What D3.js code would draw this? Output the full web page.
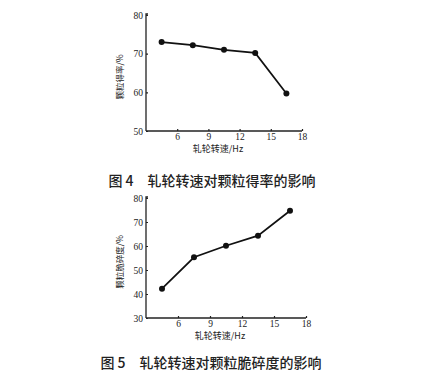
<!DOCTYPE html>
<html>
<head>
<meta charset="utf-8">
<script src="https://cdn.jsdelivr.net/npm/d3@7"></script>
<style>
  body { margin: 0; background: #fff; }
  svg { display: block; }
</style>
</head>
<body>
<div id="container"></div>
<script>
// Chart data
const speed = [4.5, 7.5, 10.5, 13.5, 16.5];
const yieldRate = [73.0, 72.2, 71.0, 70.2, 59.7];
const friability = [42.2, 55.3, 60.1, 64.3, 74.7];
const xTicks = [6, 9, 12, 15, 18];
const yTicksTop = [50, 60, 70, 80];
const yTicksBottom = [30, 40, 50, 60, 70, 80];

const width = 428;
const height = 375;

const svg = d3.select("#container").append("svg")
	.attr("width", width)
	.attr("height", height);

const serif = "'Liberation Serif', 'DejaVu Serif', serif";
const cjk = "'Noto Sans CJK SC', sans-serif";

var drawChart = function(opt) {
	const x = d3.scaleLinear()
		.domain([3, 18])
		.range([opt.left, opt.right]);

	const y = d3.scaleLinear()
		.domain(opt.yDomain)
		.range([opt.bottom, opt.top]);

	const g = svg.append("g");

	// x-axis, ticks pointing inward
	const gx = g.append("g")
		.attr("transform", `translate(0,${opt.bottom})`)
		.call(d3.axisBottom(x).tickValues(xTicks).tickSizeInner(-2).tickSizeOuter(0).tickPadding(2));

	// y-axis, ticks pointing inward
	const gy = g.append("g")
		.attr("transform", `translate(${opt.left},0)`)
		.call(d3.axisLeft(y).tickValues(opt.yTicks).tickSizeInner(-2).tickSizeOuter(0).tickPadding(3));

	[gx, gy].forEach(a => {
		a.select(".domain").attr("stroke", "#222").attr("stroke-width", 1.3);
		a.selectAll(".tick line").attr("stroke", "#222").attr("stroke-width", 1.2);
		a.selectAll(".tick text")
			.attr("fill", "#222")
			.style("font-family", serif)
			.style("font-size", "9.5px");
	});
	// short overhang at the top of the y-axis
	gy.select(".domain").attr("d", `M0,${opt.bottom}V${opt.top - 1}h2`);
	gx.select(".domain").attr("d", `M${opt.left},0H${opt.right}`);

	// line
	const pts = speed.map((d, i) => [d, opt.values[i]]);
	g.append("path")
		.datum(pts)
		.attr("fill", "none")
		.attr("stroke", "#111")
		.attr("stroke-width", 1.7)
		.attr("d", d3.line().x(d => x(d[0])).y(d => y(d[1])));

	// markers
	g.selectAll(".dot")
		.data(pts)
		.join("circle")
			.attr("class", "dot")
			.attr("cx", d => x(d[0]))
			.attr("cy", d => y(d[1]))
			.attr("r", 3)
			.attr("fill", "#111");

	// axis titles
	g.append("text")
		.attr("x", (opt.left + opt.right) / 2 - 6)
		.attr("y", opt.bottom + 21)
		.attr("text-anchor", "middle")
		.attr("fill", "#222")
		.style("font-family", cjk)
		.style("font-size", "9px")
		.text("轧轮转速/Hz");

	g.append("text")
		.attr("transform", `translate(${opt.left - 23},${(opt.top + opt.bottom) / 2 + 4}) rotate(-90)`)
		.attr("text-anchor", "middle")
		.attr("fill", "#222")
		.style("font-family", cjk)
		.style("font-size", "8.5px")
		.text(opt.yLabel);

	// caption
	svg.append("text")
		.attr("x", opt.captionX)
		.attr("y", opt.captionY)
		.attr("text-anchor", "middle")
		.attr("fill", "#222")
		.style("font-family", cjk)
		.style("font-weight", 500)
		.style("font-size", "14px")
		.text(opt.caption);
}

drawChart({
	left: 146, right: 302, top: 15, bottom: 131,
	yDomain: [50, 80], yTicks: yTicksTop, values: yieldRate,
	yLabel: "颗粒得率/%",
	caption: "图 4　轧轮转速对颗粒得率的影响",
	captionX: 212, captionY: 186
});

drawChart({
	left: 146, right: 306, top: 198, bottom: 318,
	yDomain: [30, 80], yTicks: yTicksBottom, values: friability,
	yLabel: "颗粒脆碎度/%",
	caption: "图 5　轧轮转速对颗粒脆碎度的影响",
	captionX: 211, captionY: 368
});
</script>
</body>
</html>
